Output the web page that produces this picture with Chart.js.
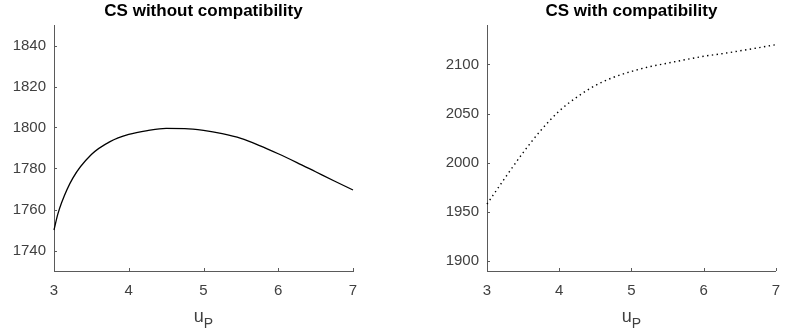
<!DOCTYPE html>
<html>
<head>
<meta charset="utf-8">
<script src="https://cdn.jsdelivr.net/npm/chart.js@4/dist/chart.umd.min.js"></script>
<style>
  body { margin: 0; background: #fff; }
  #wrap { position: relative; width: 791px; height: 333px; }
  canvas { position: absolute; top: 0; }
</style>
</head>
<body>
<div id="wrap">
  <canvas id="leftChart" width="395" height="333" style="left:0"></canvas>
  <canvas id="rightChart" width="391" height="333" style="left:400px"></canvas>
</div>
<script>
// ===== data =====
const uLeft = [3, 3.05, 3.1, 3.25, 3.5, 3.75, 4, 4.25, 4.5, 4.75, 5, 5.25, 5.5, 5.75, 6, 6.25, 6.5, 6.75, 7];
const csWithout = [1750, 1757.6, 1763.2, 1775.2, 1786.8, 1793.1, 1796.6, 1798.5, 1799.6, 1799.5, 1798.6, 1797, 1794.7, 1791.2, 1787.2, 1782.9, 1778.4, 1773.9, 1769.5];

const uRight = [3, 3.25, 3.5, 3.75, 4, 4.25, 4.5, 4.75, 5, 5.25, 5.5, 5.75, 6, 6.25, 6.5, 6.75, 7];
const csWith = [1958, 1984.6, 2010.3, 2033.3, 2052.6, 2067, 2078.5, 2086.8, 2092.8, 2097.6, 2101.2, 2104.8, 2108.2, 2110.8, 2113.7, 2116.8, 2120];

const xTicks = [3, 4, 5, 6, 7];
const yTicksLeft = [1740, 1760, 1780, 1800, 1820, 1840];
const yTicksRight = [1900, 1950, 2000, 2050, 2100];

const FONT = '"Liberation Sans", Arial, Helvetica, sans-serif';
const AXIS_COLOR = '#5a5a5a';
const TEXT_COLOR = '#404040';

// ===== inward ticks, title and u_P label =====
const decoPlugin = {
    id: 'deco',
    afterDraw(chart, args, opts) {
        const ctx = chart.ctx;
        const a = chart.chartArea;
        const xs = chart.scales.x, ys = chart.scales.y;
        ctx.save();
        ctx.strokeStyle = AXIS_COLOR;
        ctx.lineWidth = 1;
        ctx.beginPath();
        xs.ticks.forEach(t => {
            const px = Math.round(xs.getPixelForValue(t.value)) + 0.5;
            ctx.moveTo(px, a.bottom);
            ctx.lineTo(px, a.bottom - 3);
        });
        ys.ticks.forEach(t => {
            const py = Math.round(ys.getPixelForValue(t.value)) + 0.5;
            ctx.moveTo(a.left, py);
            ctx.lineTo(a.left + 3, py);
        });
        ctx.stroke();

        const cx = (a.left + a.right) / 2;
        ctx.fillStyle = '#000';
        ctx.font = 'bold 17px ' + FONT;
        ctx.textAlign = 'center';
        ctx.textBaseline = 'alphabetic';
        ctx.fillText(opts.title, cx, 16);

        // x label: u with subscript P
        ctx.fillStyle = TEXT_COLOR;
        ctx.textAlign = 'left';
        ctx.font = '18px ' + FONT;
        const wU = ctx.measureText('u').width;
        ctx.font = '14px ' + FONT;
        const wP = ctx.measureText('P').width;
        const x0 = cx - (wU + wP) / 2;
        ctx.font = '18px ' + FONT;
        ctx.fillText('u', x0, 322);
        ctx.font = '14px ' + FONT;
        ctx.fillText('P', x0 + wU, 328);
        ctx.restore();
    }
};

function makeChart(id, xs, ys, yTicks, yMin, yMax, yWidth, padRight, title, dashed) {
    const ctx = document.getElementById(id).getContext('2d');
    return new Chart(ctx, {
        type: 'line',
        data: {
            datasets: [{
                data: xs.map((x, i) => ({ x: x, y: ys[i] })),
                borderColor: '#000',
                borderWidth: dashed ? 1.4 : 1.3,
                borderDash: dashed ? [1.4, 3.4] : [],
                borderCapStyle: 'butt',
                pointRadius: 0,
                cubicInterpolationMode: 'monotone',
                fill: false,
                clip: 2
            }]
        },
        options: {
            responsive: false,
            animation: false,
            devicePixelRatio: 1,
            layout: { padding: { top: 25, right: padRight, left: 0, bottom: 0 } },
            plugins: {
                legend: { display: false },
                tooltip: { enabled: false },
                deco: { title: title }
            },
            scales: {
                x: {
                    type: 'linear',
                    min: 3,
                    max: 7,
                    grid: { display: false, drawTicks: false },
                    border: { display: true, color: AXIS_COLOR, width: 1 },
                    afterBuildTicks: s => { s.ticks = xTicks.map(v => ({ value: v })); },
                    afterFit: s => { s.height = 62; },
                    ticks: {
                        padding: 11,
                        maxRotation: 0,
                        color: TEXT_COLOR,
                        font: { family: FONT, size: 15 },
                        callback: v => String(v)
                    }
                },
                y: {
                    type: 'linear',
                    min: yMin,
                    max: yMax,
                    grid: { display: false, drawTicks: false },
                    border: { display: true, color: AXIS_COLOR, width: 1 },
                    afterBuildTicks: s => { s.ticks = yTicks.map(v => ({ value: v })); },
                    afterFit: s => { s.width = yWidth; },
                    ticks: {
                        padding: 8,
                        color: TEXT_COLOR,
                        font: { family: FONT, size: 15 },
                        callback: v => String(v)
                    }
                }
            }
        },
        plugins: [decoPlugin]
    });
}

makeChart('leftChart', uLeft, csWithout, yTicksLeft, 1730, 1850, 54, 42, 'CS without compatibility', false);
makeChart('rightChart', uRight, csWith, yTicksRight, 1890, 2140, 87, 4, 'CS with compatibility', true);
</script>
</body>
</html>
